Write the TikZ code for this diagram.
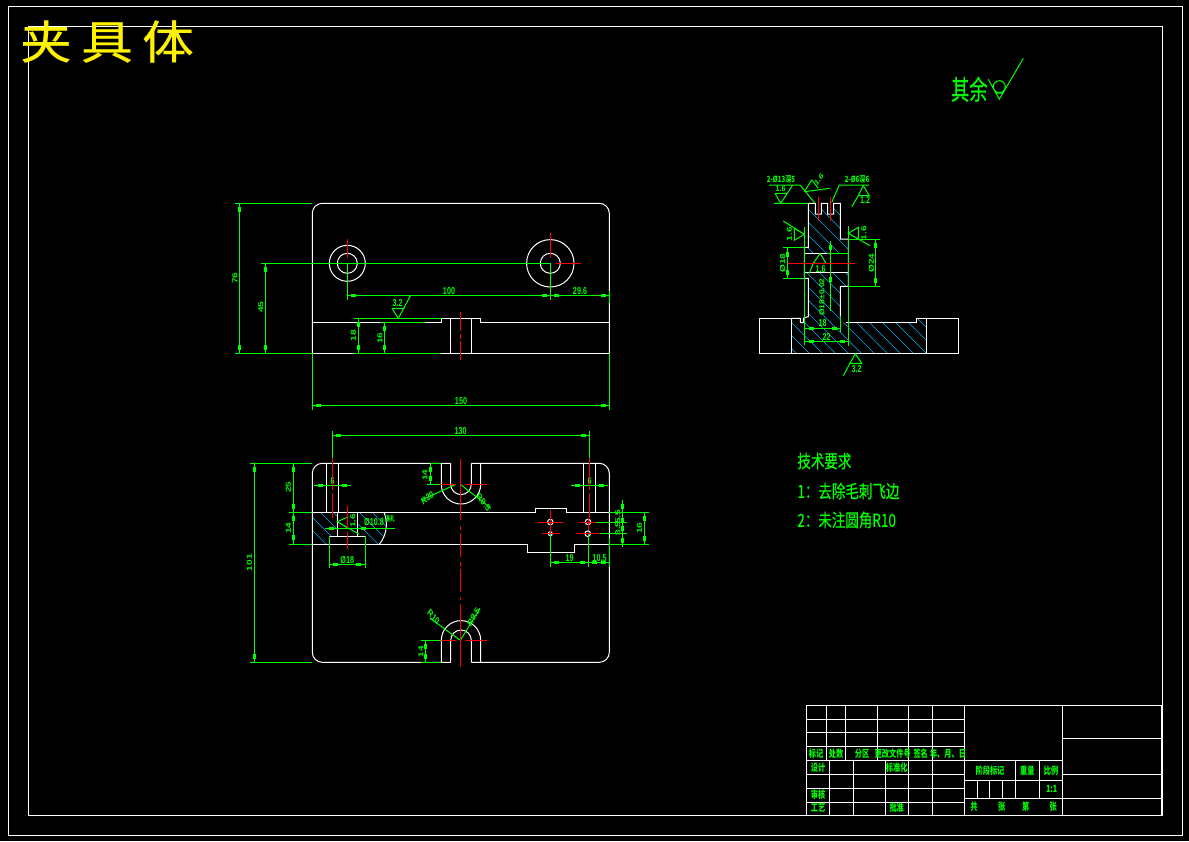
\documentclass[tikz,border=0pt]{standalone}
\usepackage{fontspec}
\setmainfont{Noto Sans CJK SC}
\newfontfamily\dimfont{Liberation Sans}
\newfontfamily\notefont[FakeBold=0.4]{Noto Sans CJK SC}
\usetikzlibrary{positioning}

\begin{document}
\begin{tikzpicture}[x=1pt,y=-1pt,line width=1pt,
    part/.style={draw=white},
    dim/.style={draw=green},
    axis/.style={draw=red},
    hatch/.style={draw=cyan,line width=.6pt},
    lab/.style={text=green,inner sep=0pt,font=\dimfont\bfseries\fontsize{10}{10}\selectfont,xscale=.72,transform shape},
    cell/.style={text=green,inner sep=0pt,font=\bfseries\fontsize{10}{10}\selectfont,xscale=.72,transform shape},
    note/.style={text=green,inner sep=0pt,anchor=west,font=\notefont\fontsize{18}{18}\selectfont,xscale=.75,transform shape}]

\fill[black] (0,0) rectangle (1189,841);
\useasboundingbox (0,0) rectangle (1189,841);

% frames
\draw[part] (8,6) rectangle (1182,835);
\draw[part] (28.3,26.3) rectangle (1162,815.3);
\node[text=yellow,inner sep=0pt,xscale=1.12,transform shape,font=\notefont\fontsize{46}{46}\selectfont] (title) at (107,41.5) {夹\hspace{8.5pt}具\hspace{8.5pt}体};

% front view
\draw[part,rounded corners=10pt] (312.3,353.3) -- (312.3,203.3) -- (609.3,203.3) -- (609.3,353.3);
\draw[part] (312.3,353.3) -- (609.3,353.3);
\draw[part] (312.3,322.3) -- (441.5,322.3) -- (441.5,318.3) -- (480,318.3) -- (480,322.3) -- (609.3,322.3);
\draw[part] (450.3,318.3) -- (450.3,353.3) (471.3,318.3) -- (471.3,353.3);
\draw[part] (347.3,263.3) circle[radius=18] (347.3,263.3) circle[radius=10];
\draw[part] (550.3,263.3) circle[radius=23.7] (550.3,263.3) circle[radius=10];

\draw[dim] (235,203.3) -- (312.3,203.3) (235,353.3) -- (312.3,353.3);
\draw[dim] (239.3,203.3) -- (239.3,353.3);
\node[lab,rotate=90] (h76) at (235,278) {76};
\draw[dim] (261,263.3) -- (550.3,263.3);
\draw[dim] (265.3,263.3) -- (265.3,353.3);
\node[lab,rotate=90] (h45) at (261,307) {45};
\draw[dim] (347.3,263.3) -- (347.3,300) (550.3,263.3) -- (550.3,300);
\draw[dim] (347.3,295.3) -- (609.3,295.3);
\node[lab] (w100) at (449,291) {100};
\node[lab] (w29) at (580,291) {29.6};
\draw[dim] (354,318.3) -- (441.5,318.3) (380,322.3) -- (425,322.3) (354,353.3) -- (440,353.3);
\draw[dim] (392,308.3) -- (404.7,308.3) (392,308.3) -- (398.3,318.3) -- (410.7,295.3);
\node[lab] (ra32) at (397.7,303) {3.2};
\draw[dim] (358.3,318.3) -- (358.3,353.3) (384.3,322.3) -- (384.3,353.3);
\node[lab,rotate=90] (h18) at (353.5,335.7) {18};
\node[lab,rotate=90] (h16) at (380,338) {16};
\draw[dim] (312.3,353.3) -- (312.3,410) (609.3,353.3) -- (609.3,410) (609.3,291) -- (609.3,303);
\draw[dim] (312.3,405.3) -- (609.3,405.3);
\node[lab] (w150) at (461,401) {150};

\draw[axis] (347.3,239.3) -- (347.3,258) (550.3,233) -- (550.3,258) (556,263.3) -- (580.7,263.3);
\draw[axis] (460.3,312) -- (460.3,331) (460.3,334) -- (460.3,339) (460.3,341) -- (460.3,360);

% top view
\begin{scope}
\clip (312.3,512.3) -- (337.3,512.3) -- (337.3,536.3) -- (357.3,536.3) -- (357.3,512.3) -- (384,512.3)
  .. controls (387.5,520) and (388,534) .. (379.3,544.3) -- (365.3,544.3) -- (365.3,536.3) -- (329.3,536.3) -- (329.3,544.3) -- (312.3,544.3) -- cycle;
\foreach \x in {256,269,...,376}
  \draw[hatch] (\x,500) -- ++(60,60);
\end{scope}

\draw[part,rounded corners=10pt] (450.7,463.3) -- (312.3,463.3) -- (312.3,662.3) -- (450.7,662.3);
\draw[part,rounded corners=10pt] (471.3,463.3) -- (609.3,463.3) -- (609.3,662.3) -- (471.3,662.3);
\draw[part] (441.3,463.3) -- (441.3,484.3) arc[start angle=180,end angle=0,radius=19.7] -- (480.7,463.3);
\draw[part] (450.7,463.3) -- (450.7,484.3) arc[start angle=180,end angle=0,radius=10.3] -- (471.3,463.3);
\draw[part] (441.3,662.3) -- (441.3,640.3) arc[start angle=180,end angle=360,radius=19.7] -- (480.7,662.3);
\draw[part] (450.7,662.3) -- (450.7,640.3) arc[start angle=180,end angle=360,radius=10.3] -- (471.3,662.3);
\draw[part] (312.3,512.3) -- (535.3,512.3) -- (535.3,508.3) -- (566.7,508.3) -- (566.7,512.3) -- (609.3,512.3);
\draw[part] (312.3,544.3) -- (527.3,544.3) -- (527.3,552.7) -- (574.7,552.7) -- (574.7,544.3) -- (609.3,544.3);
\draw[part] (326.3,463.3) -- (326.3,512.3) (338.7,463.3) -- (338.7,512.3);
\draw[part] (583.3,463.3) -- (583.3,512.3) (595.3,463.3) -- (595.3,512.3);
\draw[part] (337.3,512.3) -- (337.3,536.3) -- (357.3,536.3) -- (357.3,512.3) (329.3,536.3) -- (365.3,536.3);
\draw[part] (384,512.3) .. controls (387.5,520) and (388,534) .. (379.3,544.3);
\draw[part] (550.3,522) circle[radius=2.8] (550.3,533.7) circle[radius=2] (588,522) circle[radius=2.8] (587.7,533.7) circle[radius=2.8];

\draw[dim] (250,463.3) -- (312.3,463.3) (250,662.3) -- (312.3,662.3) (289,512.3) -- (312.3,512.3) (289,544.3) -- (312.3,544.3);
\draw[dim] (254.3,463.3) -- (254.3,662.3);
\node[lab,rotate=90] (h101) at (249.5,562.7) {101};
\draw[dim] (293.3,463.3) -- (293.3,544.3);
\node[lab,rotate=90] (h25) at (288.5,487) {25};
\node[lab,rotate=90] (h14) at (288.5,528) {14};
\draw[dim] (332.3,431) -- (332.3,458) (589.3,431) -- (589.3,458);
\draw[dim] (332.3,435.3) -- (589.3,435.3);
\node[lab] (w130) at (460.7,431) {130};
\draw[dim] (314,485.3) -- (350.7,485.3) (571,485.3) -- (607.7,485.3);
\node[lab] (w6l) at (332.5,481) {6};
\node[lab] (w6r) at (589.5,481) {6};
\draw[dim] (430,463.3) -- (441.3,463.3) (426.7,484.3) -- (441.3,484.3) (430.7,463.3) -- (430.7,484.3);
\node[lab,rotate=90] (h14a) at (425,475) {14};
\draw[dim] (421,640.3) -- (441.3,640.3) (421,662.3) -- (441.3,662.3) (425.3,640.3) -- (425.3,662.3);
\node[lab,rotate=90] (h14b) at (421,651.5) {14};

\draw[dim] (329.3,536.3) -- (329.3,568) (365.3,536.3) -- (365.3,568) (329.3,564.3) -- (365.3,564.3);
\node[lab] (d18) at (347.3,560) {Ø18};
\draw[dim] (325,528.3) -- (395,528.3);
\node[lab] (d10) at (374,522.5) {Ø10.8};
\node[cell,xscale=.9,font=\bfseries\fontsize{7}{7}\selectfont] (through) at (390,518.5) {通孔};
\draw[dim] (359.3,534.3) -- (337.3,521.7) -- (348.3,516.7) (337.3,521.7) -- (348.3,528.3);
\node[lab,rotate=90] (ra16a) at (353,520.7) {1.6};

\draw[dim] (456,484.3) -- (421.7,500) (460.3,484.3) -- (491,508.3);
\node[lab,rotate=30] (r20) at (427.5,498) {R20};
\node[lab,rotate=-42] (r95a) at (483.5,502.5) {R9.5};
\draw[dim] (460.3,640.3) -- (430,618.3) (460.3,640.3) -- (480,608.3);
\node[lab,rotate=-42] (r10) at (433.5,617) {R10};
\node[lab,rotate=52] (r95b) at (473.5,617) {R9.5};

\draw[dim] (550.3,533) -- (550.3,567) (588.3,534) -- (588.3,567) (609.3,538) -- (609.3,567);
\draw[dim] (550.3,562.3) -- (609.3,562.3);
\node[lab] (w19) at (569.7,558) {19};
\node[lab] (w105) at (599.5,558) {10.5};
\draw[dim] (596,522) -- (627,522) (600,533.7) -- (627,533.7);
\draw[dim] (609.3,512.3) -- (648.7,512.3) (609.3,544.3) -- (648.7,544.3);
\draw[dim] (622.3,500) -- (622.3,546.7) (644.3,512.3) -- (644.3,544.3);
\node[lab,rotate=90] (h55) at (618,517) {5.5};
\node[lab,rotate=90] (h85) at (618,528.5) {8.5};
\node[lab,rotate=90] (h16b) at (639.5,528.3) {16};

\draw[axis] (332.3,458) -- (332.3,490) (332.3,493) -- (332.3,518.3) (589.3,458) -- (589.3,490) (589.3,493) -- (589.3,518);
\draw[axis] (347.3,506) -- (347.3,528) (347.3,532) -- (347.3,549);
\draw[axis] (460.3,459) -- (460.3,520) (460.3,525.7) -- (460.3,530) (460.3,532.7) -- (460.3,556.7) (460.3,562) -- (460.3,566.7) (460.3,568.5) -- (460.3,592) (460.3,597) -- (460.3,600) (460.3,604) -- (460.3,666.7);
\draw[axis] (440,484.3) -- (456,484.3) (466,484.3) -- (486.7,484.3) (441,640.3) -- (456,640.3) (466,640.3) -- (486.7,640.3);
\draw[axis] (538,522) -- (562.7,522) (542,533.7) -- (560,533.7) (579,522) -- (596,522) (576,533.7) -- (600,533.7);
\draw[axis] (550.3,510) -- (550.3,533) (588.7,518) -- (588.7,530);

% side view
\begin{scope}
\clip (808.3,203.3) -- (815.3,203.3) -- (815.3,214) -- (821.3,214) -- (821.3,203.3) -- (827.7,203.3) -- (827.7,214) -- (833.7,214) -- (833.7,203.3) -- (840.3,203.3) -- (840.3,239) -- (848.3,239) -- (848.3,253.3) -- (804.3,253.3) -- (804.3,247.3) -- (808.3,247.3) -- cycle
  (804.3,272.3) -- (848.3,272.3) -- (848.3,286.3) -- (840.3,286.3) -- (840.3,322.7) -- (916.7,322.7) -- (916.7,318.3) -- (926.3,318.3) -- (926.3,353.3) -- (791.3,353.3) -- (791.3,318.3) -- (800.3,318.3) -- (800.3,322.7) -- (803.3,322.7) -- (803.3,318) -- (808.3,316.7) -- (808.3,278.3) -- (804.3,278.3) -- cycle;
\foreach \x in {620,633,...,920}
  \draw[hatch] (\x,190) -- ++(170,170);
\end{scope}

\draw[part] (759.3,318.3) rectangle (791.3,353.3) (926.3,318.3) rectangle (958.7,353.3);
\draw[part] (791.3,353.3) -- (926.3,353.3);
\draw[part] (791.3,318.3) -- (800.3,318.3) -- (800.3,322.7) -- (803.3,322.7) -- (803.3,318) -- (808.3,316.7) -- (808.3,278.3) -- (804.3,278.3) -- (804.3,247.3) -- (808.3,247.3) -- (808.3,203.3) -- (815.3,203.3) -- (815.3,214) -- (821.3,214) -- (821.3,203.3) -- (827.7,203.3) -- (827.7,214) -- (833.7,214) -- (833.7,203.3) -- (840.3,203.3) -- (840.3,239) -- (848.3,239) -- (848.3,286.3) -- (840.3,286.3) -- (840.3,316.7);
\draw[part] (846,322.7) -- (916.7,322.7) -- (916.7,318.3) -- (926.3,318.3);
\draw[part] (804.3,253.3) -- (848.3,253.3) (804.3,272.3) -- (848.3,272.3);

\draw[dim] (769,185) -- (800,185) -- (815,203.3) (774,203.3) -- (808.3,203.3);
\node[cell,xscale=.85,yscale=.85] (hole1) at (781,179) {2-Ø13深5};
\draw[dim] (775,193.3) -- (786.7,193.3) (775,193.3) -- (780.7,203.3) -- (792.7,185);
\node[lab,yscale=.8] (ra16b) at (780.7,189) {1.6};
\draw[dim] (804.3,191.7) -- (811.7,180) -- (818.3,188.3) (804.3,191.7) -- (830,188.3);
\node[lab,rotate=45,yscale=.8] (ra16c) at (819,180) {1.6};
\draw[dim] (869,185) -- (839.3,185) -- (831.7,202.3);
\node[cell,xscale=.85,yscale=.85] (hole2) at (857,179) {2-Ø6深6};
\draw[dim] (851.7,206.7) -- (858.3,195.7) -- (869.3,195.7) -- (863.3,185.7) -- (858.3,195.7);
\node[lab] (ra12) at (865,200.5) {1.2};
\draw[dim] (783.3,221) -- (804.3,234.3) -- (794.3,240.3) -- (794.3,228.3) -- (804.3,234.3);
\node[lab,rotate=90] (ra16d) at (789.3,234.3) {1.6};
\draw[dim] (870,245.7) -- (848.3,233.3) -- (858.3,227.3) -- (858.3,239.3) -- (848.3,233.3);
\node[lab,rotate=90] (ra16e) at (864,233.3) {1.6};
\draw[dim] (804.3,226.7) -- (804.3,345) (848.3,226) -- (848.3,345.7);
\draw[dim] (783,247.3) -- (804.3,247.3) (783,278.3) -- (804.3,278.3) (787.7,247.3) -- (787.7,278.3);
\node[lab,rotate=90] (d18a) at (782.7,263.3) {Ø18};
\draw[dim] (848.3,239) -- (880,239) (848.3,286.3) -- (880,286.3) (875.7,239) -- (875.7,286.3);
\node[lab,rotate=90] (d24) at (871.3,263) {Ø24};
\draw[dim] (830.3,241) -- (830.3,310.7) (826.7,253.3) -- (848.3,253.3);
\draw[dim] (809.3,273.3) -- (813.3,263.3) -- (826,263.3) -- (820,253.3) -- (813.3,263.3);
\node[lab] (ra16f) at (820.7,269) {1.6};
\node[lab,rotate=90,xscale=.85] (fit) at (822,297) {Ø18±0.02};
\draw[dim] (805,328.3) -- (840.3,328.3) (840.3,316.7) -- (840.3,331.7) (804.3,341.3) -- (848.3,341.3);
\node[lab] (w18) at (822.7,323.5) {18};
\node[lab] (w22) at (826.7,336.7) {22};
\draw[dim] (843.3,375.7) -- (850,363.3) -- (861.7,363.3) -- (855.3,353.7) -- (850,363.3);
\node[lab] (ra32b) at (856.7,369) {3.2};

\draw[axis] (787.7,263.3) -- (855,263.3) (818.3,197.3) -- (818.3,220.7) (830.3,197.3) -- (830.3,220.7);

% arrow bars
\foreach \x/\y in {318.3/405.3,603.3/405.3,353.7/295.3,544/295.3,556.7/295.3,603/295.3,
    338.7/435.3,583/435.3,320/485.3,344.7/485.3,577.3/485.3,601.7/485.3,335.7/564.3,358.7/564.3,
    331/528.3,363.3/528.3,556.5/562.3,582/562.3,594.5/562.3,603/562.3,811/341.3,842.3/341.3,
    811/328.3,834.3/328.3}
  \fill[green] (\x-2.5,\y-1.5) rectangle (\x+2.5,\y+1.5);
\foreach \x/\y in {239.3/209.7,239.3/347.3,265.3/269.3,265.3/347.3,358.3/324.3,358.3/347.3,384.3/328.3,384.3/347.3,
    254.3/469.7,254.3/656.3,293.3/469.7,293.3/506.3,293.3/518.7,293.3/537.3,430.7/469.7,430.7/478,425.3/646.7,425.3/656,
    622.3/506,622.3/520,622.3/528.3,622.3/540.5,644.3/518.3,644.3/538.3,
    787.7/254,787.7/272.3,875.7/245.7,875.7/280.3,830.3/247,830.3/279}
  \fill[green] (\x-1.5,\y-2.5) rectangle (\x+1.5,\y+2.5);

% remark
\node[note,font=\notefont\fontsize{27}{27}\selectfont,anchor=center,xscale=.9] (rest) at (969.3,89.3) {其余};
\draw[dim] (988.3,79.3) -- (999.3,99.3) -- (1023.3,58.3) (999.3,86.7) circle[radius=6] (995.5,93) -- (1003,93);
\node[note] (req) at (797,461) {技术要求};
\node[note] (req1) at (797,491) {1：去除毛刺飞边};
\node[note] (req2) at (797,520) {2：未注圆角R10};

% title block
\draw[part] (806,705) rectangle (1161.7,815.3);
\foreach \y in {719.3,732.3,746.3,760.3,774.3,788.3,802.3}
  \draw[part] (806,\y) -- (964,\y);
\foreach \x in {826.3,845.3,877.3,908.3,932.3}
  \draw[part] (\x,705) -- (\x,760.3);
\foreach \x in {829.3,853.3,885.3,908.3,932.3}
  \draw[part] (\x,760.3) -- (\x,815.3);
\draw[part] (964,705) -- (964,815.3) (1062.3,705) -- (1062.3,815.3);
\foreach \y in {760.3,780.3,798.3}
  \draw[part] (964,\y) -- (1062.3,\y);
\foreach \y in {738.3,774.3,798.3}
  \draw[part] (1062.3,\y) -- (1161.7,\y);
\draw[part] (1015.3,760.3) -- (1015.3,798.3) (1039.3,760.3) -- (1039.3,798.3);
\foreach \x in {977.3,989.3,1002.3}
  \draw[part] (\x,780.3) -- (\x,798.3);

\node[cell] (mark) at (816,754) {标记};
\node[cell] (count) at (836,754) {处数};
\node[cell] (zone) at (862,754) {分区};
\node[cell] (docno) at (892.7,754) {更改文件号};
\node[cell] (sign) at (920.7,754) {签名};
\node[cell] (date) at (948,754) {年、月、日};
\node[cell] (design) at (818,767.3) {设计};
\node[cell] (std) at (896.7,767.3) {标准化};
\node[cell] (check) at (818,795) {审核};
\node[cell] (craft) at (818,808) {工艺};
\node[cell] (appr) at (896.7,808) {批准};
\node[cell] (stage) at (990,770.7) {阶段标记};
\node[cell] (mass) at (1027.3,770.7) {重量};
\node[cell] (ratio) at (1051,770.7) {比例};
\node[cell] (ratioval) at (1051.7,789) {1:1};
\node[cell] (sheets) at (974,807) {共};
\node[cell] (sheetsb) at (1001.7,807) {张};
\node[cell] (sheetno) at (1025.7,807) {第};
\node[cell] (sheetnob) at (1053.3,807) {张};
\end{tikzpicture}
\end{document}
